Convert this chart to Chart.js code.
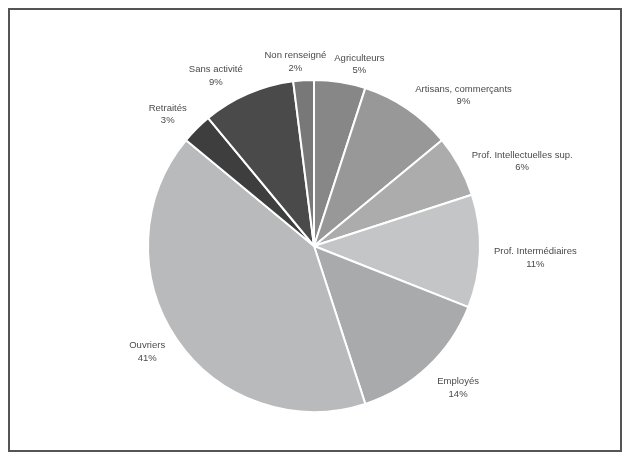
<!DOCTYPE html>
<html>
<head>
<meta charset="utf-8">
<script src="https://cdn.jsdelivr.net/npm/chart.js@4"></script>
<style>
html,body{margin:0;padding:0;background:#fff;}
#wrap{width:633px;height:463px;position:relative;}
</style>
</head>
<body>
<div id="wrap"><canvas id="c" width="633" height="463"></canvas></div>
<script>
const categories = ["Agriculteurs","Artisans, commerçants","Prof. Intellectuelles sup.","Prof. Intermédiaires","Employés","Ouvriers","Retraités","Sans activité","Non renseigné"];
const shares = [5, 9, 6, 11, 14, 41, 3, 9, 2];
const shareLabels = ["5%","9%","6%","11%","14%","41%","3%","9%","2%"];
const sliceColors = ["#878787","#989898","#acacac","#c4c5c6","#a9aaab","#b9babb","#3e3e3e","#4a4a4a","#787878"];

const frame = {
  id: 'frame',
  afterDraw(chart) {
    const ctx = chart.ctx;
    ctx.save();
    ctx.strokeStyle = '#555';
    ctx.lineWidth = 2;
    ctx.strokeRect(9, 9, 612, 442);
    ctx.restore();
  }
};

const outsideLabels = {
  id: 'outsideLabels',
  afterDatasetsDraw(chart) {
    const ctx = chart.ctx;
    const meta = chart.getDatasetMeta(0);
    const gap = 14, kx = 2.5, ky = 0.6, lh = 12.5, shiftY = 3, tilt = 3, minSep = 8;
    ctx.save();
    ctx.font = '9.5px "Liberation Sans", Arial, sans-serif';
    ctx.fillStyle = '#4a4a4a';
    ctx.textAlign = 'center';
    ctx.textBaseline = 'middle';
    const boxes = meta.data.map((el, i) => {
      const p = el.getProps(['x','y','startAngle','endAngle','outerRadius'], true);
      const mid = (p.startAngle + p.endAngle) / 2;
      const ux = Math.cos(mid), uy = Math.sin(mid);
      const ax = p.x + (p.outerRadius + gap) * ux;
      const ay = p.y + (p.outerRadius + gap) * uy;
      const w = Math.max(ctx.measureText(categories[i]).width, ctx.measureText(shareLabels[i]).width);
      const h = lh * 2;
      const cl = v => Math.max(-1, Math.min(1, v));
      return {i, cx: ax + w / 2 * cl(ux * kx), cy: ay + h / 2 * cl(uy * ky) + shiftY + tilt * ux, w, h};
    });
    // collision resolution between neighbouring labels
    for (let iter = 0; iter < 3; iter++) {
      for (let a = 0; a < boxes.length; a++) {
        const b1 = boxes[a], b2 = boxes[(a + 1) % boxes.length];
        const ovx = Math.min(b1.cx + b1.w/2, b2.cx + b2.w/2) - Math.max(b1.cx - b1.w/2, b2.cx - b2.w/2);
        const ovy = Math.min(b1.cy + b1.h/2, b2.cy + b2.h/2) - Math.max(b1.cy - b1.h/2, b2.cy - b2.h/2);
        if (ovx > -minSep && ovy > 0) {
          const need = ovx + minSep;
          const left = b1.cx < b2.cx ? b1 : b2;
          const right = left === b1 ? b2 : b1;
          if (shares[left.i] <= shares[right.i]) { left.cx -= need * 0.25; right.cx += need * 0.75; }
          else { left.cx -= need * 0.75; right.cx += need * 0.25; }
        }
      }
    }
    boxes.forEach(b => {
      ctx.fillText(categories[b.i], b.cx, b.cy - lh / 2);
      ctx.fillText(shareLabels[b.i], b.cx, b.cy + lh / 2);
    });
    ctx.restore();
  }
};

new Chart(document.getElementById('c'), {
  type: 'pie',
  data: {
    labels: categories,
    datasets: [{
      data: shares,
      backgroundColor: sliceColors,
      borderColor: '#ffffff',
      borderWidth: 2,
      hoverOffset: 0,
      offset: 0
    }]
  },
  options: {
    responsive: false,
    animation: false,
    events: [],
    layout: { padding: { top: 79, bottom: 50, left: 114, right: 119 } },
    plugins: { legend: { display: false }, tooltip: { enabled: false } }
  },
  plugins: [outsideLabels, frame]
});
</script>
</body>
</html>
